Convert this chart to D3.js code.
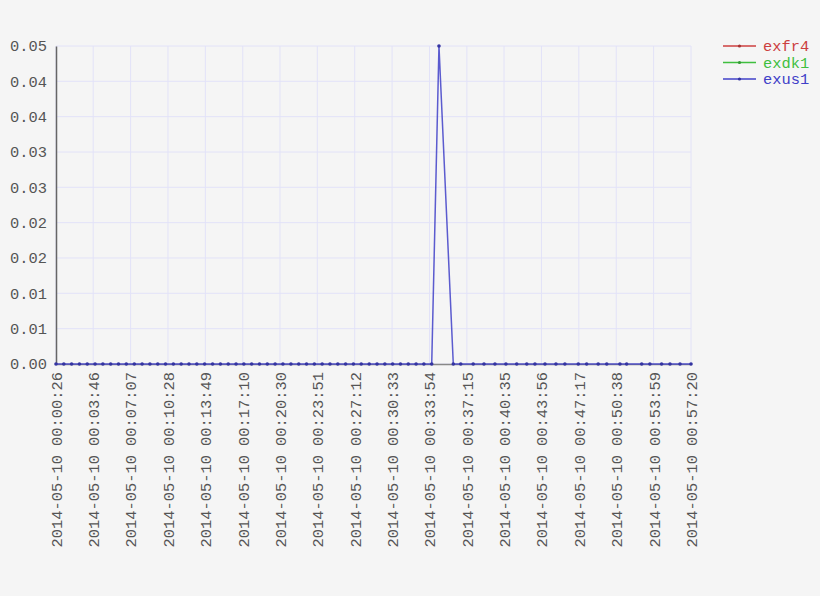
<!DOCTYPE html>
<html>
<head>
<meta charset="utf-8">
<script src="https://cdn.jsdelivr.net/npm/d3@7"></script>
<style>
  body { margin: 0; background: #f5f5f5; }
  text { font-family: "Liberation Mono", "DejaVu Sans Mono", monospace; }
</style>
</head>
<body>
<div id="chart"></div>
<script>
// series names and colours
const SERIES = ["exfr4", "exdk1", "exus1"];
const COLORS = ["#cc3f3f", "#3fbf3f", "#4040c8"];

const DAY = "2014-05-10";

// sample times (exus1)
const TIMES = [
  "00:00:26", "00:01:08", "00:01:50", "00:02:32", "00:03:14", "00:03:56", "00:04:38", "00:05:20",
  "00:06:02", "00:06:44", "00:07:27", "00:08:09", "00:08:51", "00:09:33", "00:10:15", "00:10:57",
  "00:11:39", "00:12:21", "00:13:03", "00:13:45", "00:14:28", "00:15:10", "00:15:52", "00:16:34",
  "00:17:16", "00:17:58", "00:18:40", "00:19:22", "00:20:04", "00:20:46", "00:21:29", "00:22:11",
  "00:22:53", "00:23:35", "00:24:17", "00:24:59", "00:25:41", "00:26:23", "00:27:05", "00:27:47",
  "00:28:30", "00:29:12", "00:29:54", "00:30:36", "00:31:18", "00:32:00", "00:32:42", "00:33:24",
  "00:34:06", "00:34:45", "00:36:02", "00:36:42", "00:37:49", "00:38:47", "00:39:46", "00:40:45",
  "00:41:43", "00:42:37", "00:43:21", "00:44:15", "00:45:14", "00:46:02", "00:47:14", "00:47:59",
  "00:49:01", "00:49:47", "00:50:58", "00:51:34", "00:52:55", "00:53:39", "00:54:42", "00:55:27",
  "00:56:21", "00:57:20"
];

const exus1 = [
  0, 0, 0, 0, 0, 0, 0, 0, 0, 0, 0, 0, 0, 0, 0, 0,
  0, 0, 0, 0, 0, 0, 0, 0, 0, 0, 0, 0, 0, 0, 0, 0,
  0, 0, 0, 0, 0, 0, 0, 0, 0, 0, 0, 0, 0, 0, 0, 0,
  0, 0.05, 0, 0, 0, 0, 0, 0, 0, 0, 0, 0, 0, 0, 0, 0,
  0, 0, 0, 0, 0, 0, 0, 0, 0, 0
];
// no samples for these two in this window
const exfr4 = [];
const exdk1 = [];

const X_TICKS = [
  "00:00:26", "00:03:46", "00:07:07", "00:10:28", "00:13:49", "00:17:10",
  "00:20:30", "00:23:51", "00:27:12", "00:30:33", "00:33:54", "00:37:15",
  "00:40:35", "00:43:56", "00:47:17", "00:50:38", "00:53:59", "00:57:20"
];
const Y_TICKS = [0, 0.005556, 0.011111, 0.016667, 0.022222, 0.027778, 0.033333, 0.038889, 0.044444, 0.05];

var width = 820,
    height = 596;
var margin = {top: 46, right: 129, bottom: 232, left: 56};
var innerW = width - margin.left - margin.right,
    innerH = height - margin.top - margin.bottom;
var FONT = 15.4;

var parse = d3.timeParse("%Y-%m-%d %H:%M:%S");
var fmt = d3.timeFormat("%Y-%m-%d %H:%M:%S");

var svg = d3.select("#chart").append("svg")
  .attr("width", width)
  .attr("height", height);

var g = svg.append("g")
  .attr("transform", "translate(" + margin.left + "," + margin.top + ")");

var tickDates = X_TICKS.map(t => parse(DAY + " " + t));

const x = d3.scaleTime()
  .domain([tickDates[0], tickDates[tickDates.length - 1]])
  .range([0, innerW]);
const y = d3.scaleLinear()
  .domain([0, 0.05])
  .range([innerH, 0]);

// grid
g.append("g").selectAll("line")
  .data(tickDates)
  .join("line")
    .attr("x1", d => x(d)).attr("x2", d => x(d))
    .attr("y1", 0).attr("y2", innerH)
    .attr("stroke", "#e2e2f8")
    .attr("stroke-width", 1);
g.append("g").selectAll("line")
  .data(Y_TICKS)
  .join("line")
    .attr("x1", 0).attr("x2", innerW)
    .attr("y1", d => y(d)).attr("y2", d => y(d))
    .attr("stroke", "#e2e2f8")
    .attr("stroke-width", 1);

// axes
var yAxis = g.append("g")
  .call(d3.axisLeft(y).tickValues(Y_TICKS).tickFormat(d3.format(".2f")).tickSize(0).tickPadding(9));
yAxis.select(".domain").attr("stroke", "#666").attr("stroke-width", 1.5);
yAxis.selectAll("text").attr("font-size", FONT).attr("fill", "#555")
  .attr("font-family", "Liberation Mono, monospace");

var xAxis = g.append("g")
  .attr("transform", "translate(0," + innerH + ")")
  .call(d3.axisBottom(x).tickValues(tickDates).tickFormat(fmt).tickSize(0).tickPadding(0));
xAxis.select(".domain").attr("stroke", "#888").attr("stroke-width", 1.5);
xAxis.selectAll("text")
  .attr("font-size", FONT).attr("fill", "#555")
  .attr("font-family", "Liberation Mono, monospace")
  .attr("text-anchor", "end")
  .attr("transform", "rotate(-90)")
  .attr("x", -8)
  .attr("y", 0)
  .attr("dy", "0.35em");

// lines
var allData = [exfr4, exdk1, exus1];
var line = d3.line()
  .x(d => x(d.date))
  .y(d => y(d.value));

SERIES.forEach(function(name, i) {
  var pts = allData[i].map((v, j) => ({date: parse(DAY + " " + TIMES[j]), value: v}));
  if (!pts.length) return;
  g.append("path")
    .datum(pts)
    .attr("fill", "none")
    .attr("stroke", COLORS[i])
    .attr("stroke-opacity", 0.85)
    .attr("stroke-width", 1.5)
    .attr("d", line);
  g.append("g").selectAll("circle")
    .data(pts)
    .join("circle")
      .attr("cx", d => x(d.date))
      .attr("cy", d => y(d.value))
      .attr("r", 1.8)
      .attr("fill", d3.color(COLORS[i]).darker(0.6));
});

// legend
var legend = svg.append("g")
  .attr("transform", "translate(723,46)")
  .selectAll("g")
  .data(SERIES)
  .join("g")
    .attr("transform", (d, i) => "translate(0," + i * 16.5 + ")");
legend.append("line")
  .attr("x1", 0).attr("x2", 33)
  .attr("stroke", (d, i) => COLORS[i])
  .attr("stroke-width", 1.3);
legend.append("circle")
  .attr("cx", 16.5).attr("r", 1.6)
  .attr("fill", (d, i) => d3.color(COLORS[i]).darker(0.6));
legend.append("text")
  .attr("x", 40)
  .attr("dy", "0.35em")
  .attr("font-size", FONT)
  .attr("fill", (d, i) => COLORS[i])
  .text(d => d);
</script>
</body>
</html>
